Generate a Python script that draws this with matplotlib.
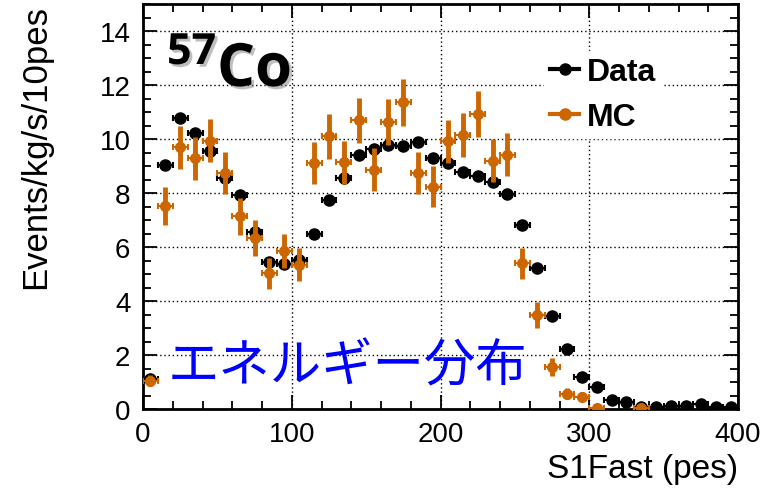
import matplotlib
matplotlib.use("Agg")
import matplotlib.pyplot as plt
import matplotlib.patheffects as pe
from matplotlib.lines import Line2D
from matplotlib.ticker import MultipleLocator
import numpy as np

# ---------------- Data ----------------
bin_centers = np.arange(5, 400, 10)

data_vals = [1.10, 9.02, 10.76, 10.22, 9.54, 8.57, 7.93, 6.57, 5.45, 5.37,
             5.51, 6.50, 7.74, 8.55, 9.42, 9.63, 9.79, 9.75, 9.88, 9.29,
             9.12, 8.76, 8.64, 8.41, 7.97, 6.80, 5.24, 3.44, 2.23, 1.18,
             0.81, 0.33, 0.27, 0.09, 0.06, 0.12, 0.12, 0.19, 0.06, 0.06]

mc_vals = [1.05, 7.52, 9.70, 9.29, 9.94, 8.74, 7.13, 6.32, 5.02, 5.86,
           5.35, 9.11, 10.10, 9.14, 10.69, 8.86, 10.62, 11.36, 8.74, 8.24,
           9.91, 10.16, 10.93, 9.19, 9.42, 5.39, 3.49, 1.57, 0.56, 0.46,
           0.04, np.nan, np.nan, 0.04, np.nan, np.nan, np.nan, np.nan, np.nan, np.nan]

mc_err = [0.20, 0.71, 0.80, 0.80, 0.79, 0.77, 0.70, 0.67, 0.58, 0.64,
          0.62, 0.79, 0.84, 0.79, 0.84, 0.79, 0.85, 0.86, 0.77, 0.76,
          0.80, 0.81, 0.85, 0.80, 0.79, 0.59, 0.48, 0.33, 0.20, 0.18,
          0.05, 0, 0, 0.05, 0, 0, 0, 0, 0, 0]

bin_half = 5
orange = "#cc6600"

# ---------------- Plot ----------------
W, H = 776, 489
fig = plt.figure(figsize=(W / 100, H / 100), dpi=100)
ax = fig.add_axes([143 / W, 1 - 410 / H, (738 - 143) / W, (410 - 5) / H])

# data: black points with bin-width x errors
ax.errorbar(bin_centers, data_vals, xerr=bin_half, fmt="o", color="black",
            markersize=8, elinewidth=1.5, capsize=2.5, capthick=1.5, zorder=3)

# MC: orange points, thick y errors, thin x errors
ax.errorbar(bin_centers, mc_vals, yerr=mc_err, fmt="none", ecolor=orange,
            elinewidth=3.5, capsize=0, zorder=4)
ax.errorbar(bin_centers, mc_vals, xerr=bin_half, fmt="o", color=orange,
            markersize=7, elinewidth=1.5, capsize=2.5, capthick=1.5, zorder=5)

ax.set_xlim(0, 400)
ax.set_ylim(0, 15)
ax.xaxis.set_major_locator(MultipleLocator(100))
ax.xaxis.set_minor_locator(MultipleLocator(20))
ax.yaxis.set_major_locator(MultipleLocator(2))
ax.yaxis.set_minor_locator(MultipleLocator(0.5))

ax.grid(True, which="major", color="black", linestyle=(0, (1, 2)), linewidth=1)
ax.set_axisbelow(True)

ax.tick_params(which="both", direction="in", top=True, right=True, width=1.3)
ax.tick_params(which="major", length=10, labelsize=20, pad=9)
ax.tick_params(which="minor", length=6)
for lab in ax.get_xticklabels() + ax.get_yticklabels():
    lab.set_fontfamily("Liberation Sans")
for sp in ax.spines.values():
    sp.set_linewidth(2)

ax.set_xlabel("S1Fast (pes)", loc="right", fontsize=24, family="Liberation Sans", labelpad=4)
ax.set_ylabel("Events/kg/s/10pes", loc="top", fontsize=25, family="Liberation Sans", labelpad=34)

# legend
handles = [
    Line2D([], [], color="black", lw=3, marker="o", markersize=8),
    Line2D([], [], color=orange, lw=3, marker="o", markersize=8),
]
leg = ax.legend(handles, ["Data", "MC"], loc="upper left",
                bbox_to_anchor=(528 / W, 1 - 36 / H), bbox_transform=fig.transFigure,
                prop={"family": "Liberation Sans", "weight": "bold", "size": 23},
                handlelength=0.9, handletextpad=0.25, labelspacing=0.45,
                borderpad=0.2, frameon=True, fancybox=False)
leg.get_frame().set_facecolor("white")
leg.get_frame().set_edgecolor("white")
leg.get_frame().set_alpha(1)

# 57Co label with soft shadow
shadow = [pe.withSimplePatchShadow(offset=(2, -2), shadow_rgbFace="gray", alpha=0.5)]
fig.text(167 / W, 1 - 65 / H, "57", fontsize=31, weight="bold", family="Open Sans",
         va="baseline", ha="left", path_effects=shadow)
fig.text(217 / W, 1 - 87 / H, "Co", fontsize=43, weight="bold", family="Open Sans",
         va="baseline", ha="left", path_effects=shadow)

# Japanese annotation
fig.text(168 / W, 1 - 367 / H, "エネルギー分布", fontsize=37, color="#0000ff",
         family=["Noto Sans CJK JP", "DejaVu Sans"], va="center", ha="left")

fig.savefig("out.png", dpi=100)
